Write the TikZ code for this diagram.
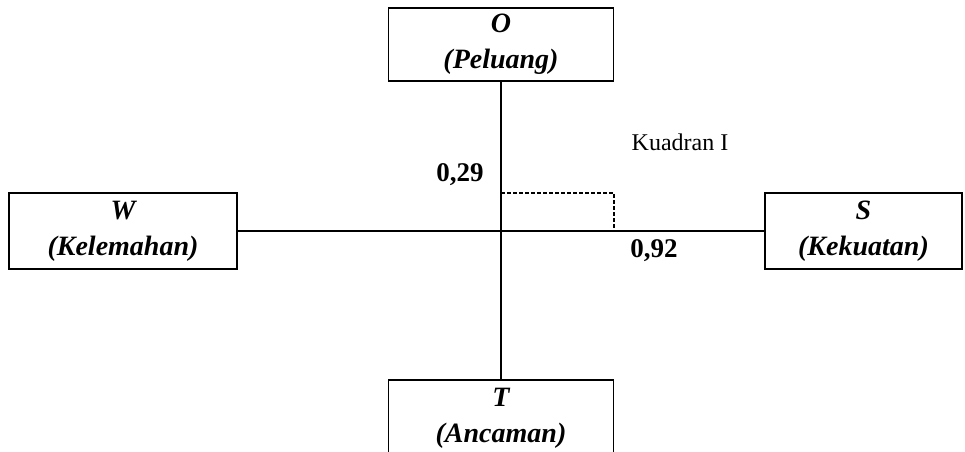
\documentclass[tikz,border=0pt]{standalone}
\usepackage{fontspec}
\setmainfont{Liberation Serif}
\begin{document}
\begin{tikzpicture}[x=1pt,y=-1pt,
  box/.style={draw, line width=1.8pt, inner sep=0pt, align=center,
    font=\fontsize{28}{36}\selectfont\bfseries\itshape},
  axis/.style={line width=1.8pt},
  guide/.style={line width=1.3pt, dash pattern=on 3.5pt off 2.5pt},
  val/.style={font=\fontsize{27}{30}\selectfont\bfseries, inner sep=0pt},
  lab/.style={font=\fontsize{24}{28}\selectfont, inner sep=0pt}]
\useasboundingbox (0,0) rectangle (965,451);
\clip (0,0) rectangle (965,451);
\node[box, minimum width=225pt, minimum height=73pt] (O) at (501,44.5) {O\\(Peluang)};
\node[box, minimum width=228pt, minimum height=76pt] (W) at (123,231) {W\\(Kelemahan)};
\node[box, minimum width=197pt, minimum height=76pt] (S) at (863.5,231) {S\\(Kekuatan)};
\node[box, minimum width=225pt, minimum height=76pt, anchor=north] (T) at (501,379) {T\\(Ancaman)};
\draw[axis] (O.south) -- (T.north);
\draw[axis] (W.east) -- (S.west);
\coordinate (q) at (614,193);
\draw[guide] (O.south |- q) -- (q) -- (q |- W.east);
\node[val] (v1) at (460,175) {0,29};
\node[val] (v2) at (654,251) {0,92};
\node[lab] (k) at (680,142) {Kuadran I};
\end{tikzpicture}
\end{document}
